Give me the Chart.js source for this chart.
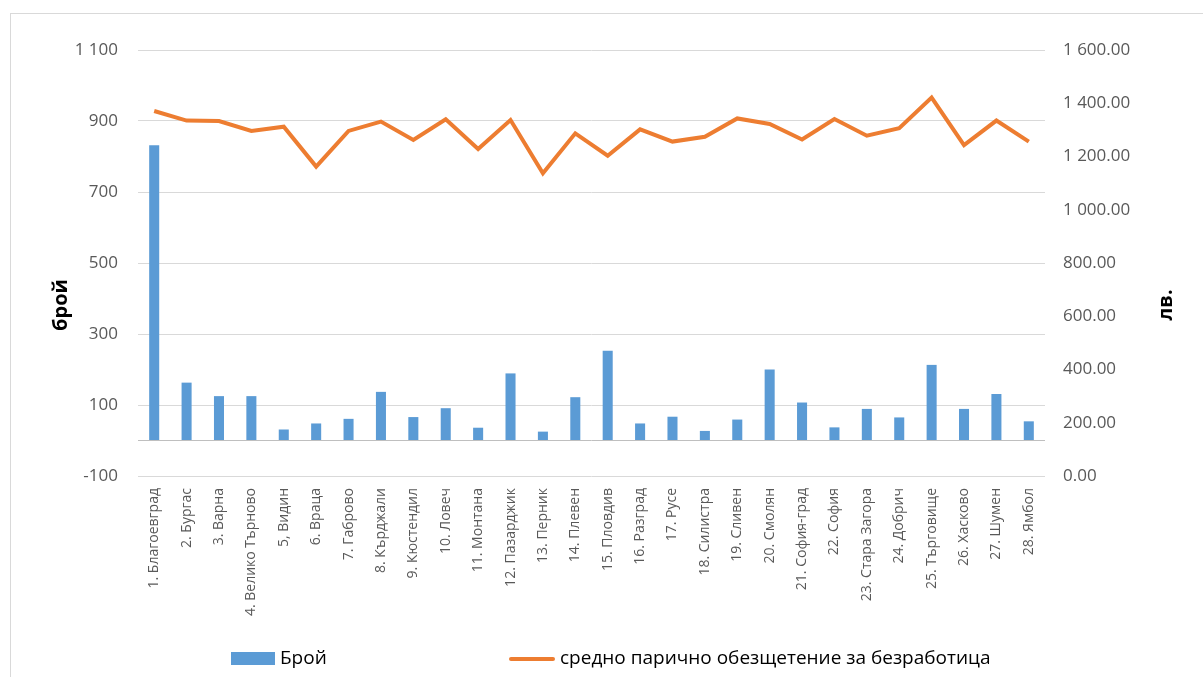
<!DOCTYPE html>
<html>
<head>
<meta charset="utf-8">
<script src="https://cdn.jsdelivr.net/npm/chart.js@4.4.0/dist/chart.umd.min.js"></script>
<style>
  body { margin: 0; background: #fff; }
  #wrap { position: relative; width: 1203px; height: 677px; font-family: "Open Sans", sans-serif; }
  #frame { position: absolute; left: 10px; top: 13px; right: 0; bottom: 0; border-left: 1px solid #d9d9d9; border-top: 1px solid #d9d9d9; }
  #chart { position: absolute; left: 0; top: 0; }
  .leg { position: absolute; top: 644px; font-size: 19px; color: #000; white-space: nowrap; line-height: 26px; }
  .leg span { display: inline-block; vertical-align: middle; margin-right: 5px; }
</style>
</head>
<body>
<div id="wrap">
  <div id="frame"></div>
  <canvas id="chart" width="1203" height="677"></canvas>
  <div class="leg" id="leg1" style="left:231px"><span id="sw1" style="width:44px;height:13px"></span>Брой</div>
  <div class="leg" id="leg2" style="left:509px"><span id="sw2" style="width:46px;height:4px;border-radius:2px"></span>средно парично обезщетение за безработица</div>
</div>
<script>
// data
var regions = [
  "1. Благоевград", "2. Бургас", "3. Варна", "4. Велико Търново", "5, Видин",
  "6. Враца", "7. Габрово", "8. Кърджали", "9. Кюстендил", "10. Ловеч",
  "11. Монтана", "12. Пазарджик", "13. Перник", "14. Плевен", "15. Пловдив",
  "16. Разград", "17. Русе", "18. Силистра", "19. Сливен", "20. Смолян",
  "21. София-град", "22. София", "23. Стара Загора", "24. Добрич", "25. Търговище",
  "26. Хасково", "27. Шумен", "28. Ямбол"
];
var counts = [832, 163, 125, 125, 31, 48, 61, 137, 66, 91, 36, 189, 25, 122, 253,
  48, 67, 27, 59, 200, 107, 37, 89, 65, 213, 89, 131, 54];
var benefit = [1371, 1335, 1333, 1296, 1312, 1162, 1296, 1331, 1262, 1340, 1228, 1337, 1137, 1287,
  1203, 1302, 1256, 1274, 1343, 1322, 1264, 1341, 1278, 1306, 1421, 1243, 1335, 1256];

var countLabel = "Брой";
var benefitLabel = "средно парично обезщетение за безработица";
var leftTitle = "брой";
var rightTitle = "лв.";

var blue = "#5B9BD5";
var orange = "#ED7D31";
var tickColor = "#595959";
var gridColor = "#d9d9d9";

document.getElementById("sw1").style.background = blue;
document.getElementById("sw2").style.background = orange;

// "1 100" style thousands separator
var spaced = (v, dec) => {
  var s = Math.abs(v).toFixed(dec);
  var parts = s.split(".");
  parts[0] = parts[0].replace(/\B(?=(\d{3})+(?!\d))/g, " ");
  return (v < 0 ? "-" : "") + parts.join(".");
};

// axis titles, both read bottom to top
var titlesPlugin = {
  id: "titles",
  afterDraw: chart => {
    var ctx = chart.ctx;
    ctx.save();
    ctx.fillStyle = "#000";
    ctx.font = "bold 20px 'Open Sans'";
    ctx.textAlign = "center";
    ctx.textBaseline = "middle";
    [[leftTitle, 61], [rightTitle, 1166]].forEach(t => {
      ctx.save();
      ctx.translate(t[1], 305);
      ctx.rotate(-Math.PI / 2);
      ctx.fillText(t[0], 0, 0);
      ctx.restore();
    });
    ctx.restore();
  }
};

var ctx = document.getElementById("chart");
var chart = new Chart(ctx, {
  data: {
    labels: regions,
    datasets: [
      {
        type: "bar",
        label: countLabel,
        data: counts,
        backgroundColor: blue,
        yAxisID: "y",
        barPercentage: 0.31,
        categoryPercentage: 1,
        order: 2
      },
      {
        type: "line",
        label: benefitLabel,
        data: benefit,
        borderColor: orange,
        backgroundColor: orange,
        borderWidth: 4,
        pointRadius: 0,
        tension: 0,
        yAxisID: "y1",
        order: 1
      }
    ]
  },
  options: {
    responsive: false,
    animation: false,
    layout: { padding: { left: 10, top: 50, right: 0, bottom: 0 } },
    plugins: {
      legend: { display: false },
      tooltip: { enabled: false }
    },
    scales: {
      x: {
        grid: { display: false },
        border: { display: false },
        ticks: {
          color: tickColor,
          font: { family: "Open Sans", size: 14 },
          minRotation: 90,
          maxRotation: 90,
          autoSkip: false,
          padding: 4
        },
        afterFit: scale => { scale.height = 201; }
      },
      y: {
        position: "left",
        min: -100,
        max: 1100,
        grid: {
          drawTicks: false,
          color: c => (c.tick && c.tick.value === 0 ? "#bfbfbf" : gridColor)
        },
        border: { display: false },
        ticks: {
          stepSize: 200,
          padding: 20,
          color: tickColor,
          font: { family: "Open Sans", size: 17 },
          callback: v => (v === 0 ? "" : spaced(v, 0))
        },
        // zero line where the category axis crosses
        afterBuildTicks: scale => {
          scale.ticks.push({ value: 0 });
          scale.ticks.sort((a, b) => a.value - b.value);
        },
        afterFit: scale => { scale.width = 128; }
      },
      y1: {
        position: "right",
        min: 0,
        max: 1600,
        grid: { display: false, drawTicks: false },
        border: { display: false },
        ticks: {
          stepSize: 200,
          padding: 18,
          color: tickColor,
          font: { family: "Open Sans", size: 17 },
          callback: v => spaced(v, 2)
        },
        afterFit: scale => { scale.width = 158; }
      }
    }
  },
  plugins: [titlesPlugin]
});
</script>
</body>
</html>
